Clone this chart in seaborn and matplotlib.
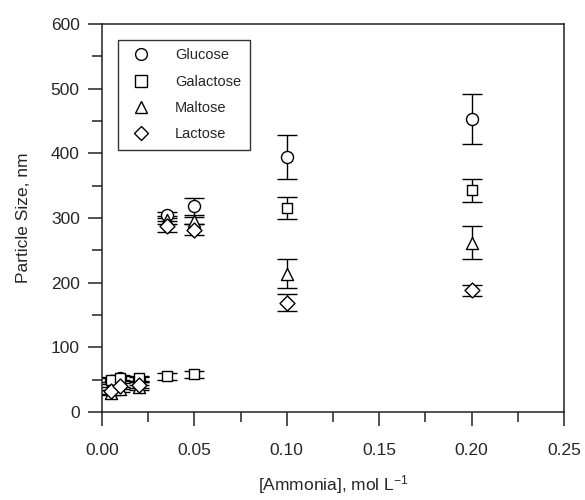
import numpy as np
import pandas as pd
import matplotlib
matplotlib.use("Agg")
import matplotlib.pyplot as plt
import seaborn as sns
from matplotlib.lines import Line2D
from matplotlib.ticker import MultipleLocator

# ---- data ----
sugars = ["Glucose", "Galactose", "Maltose", "Lactose"]
ammonia = [0.005, 0.01, 0.02, 0.035, 0.05, 0.10, 0.20]
glucose_size = [48, 52, 50, 305, 318, 395, 453]
glucose_err = [4, 4, 4, 5, 13, 34, 38]
galactose_size = [50, 53, 52, 55, 58, 315, 343]
galactose_err = [4, 4, 4, 5, 6, 17, 18]
maltose_size = [30, 35, 38, 297, 296, 214, 262]
maltose_err = [4, 4, 4, 6, 6, 22, 26]
lactose_size = [33, 40, 42, 287, 282, 169, 188]
lactose_err = [5, 5, 5, 8, 9, 13, 9]

sizes = [glucose_size, galactose_size, maltose_size, lactose_size]
errs = [glucose_err, galactose_err, maltose_err, lactose_err]
marker_map = {"Glucose": "o", "Galactose": "s", "Maltose": "^", "Lactose": "D"}
marker_size = {"Glucose": 75, "Galactose": 60, "Maltose": 75, "Lactose": 58}

df = pd.DataFrame({
    "Ammonia": np.tile(ammonia, len(sugars)),
    "Size": np.concatenate(sizes),
    "Err": np.concatenate(errs),
    "Sugar": np.repeat(sugars, len(ammonia)),
})

sns.set_theme(style="ticks")
plt.rcParams["font.family"] = ["Liberation Sans", "DejaVu Sans"]
plt.rcParams["mathtext.fontset"] = "custom"
plt.rcParams["mathtext.rm"] = "Liberation Sans"
plt.rcParams["mathtext.it"] = "Liberation Sans"

fig = plt.figure(figsize=(5.85, 5.0), dpi=100)
ax = fig.add_axes([102 / 585, 88 / 500, 462 / 585, 388 / 500])

for s in sugars:
    d = df[df["Sugar"] == s]
    ax.errorbar(d["Ammonia"], d["Size"], yerr=d["Err"], fmt="none",
                ecolor="black", elinewidth=1.0, capsize=7.2, capthick=1.0, zorder=2)

for s in sugars:
    d = df[df["Sugar"] == s]
    sns.scatterplot(data=d, x="Ammonia", y="Size", marker=marker_map[s],
                    s=marker_size[s], facecolor="white", edgecolor="black",
                    linewidth=1.0, ax=ax, zorder=3, legend=False)

ax.set_xlim(0, 0.25)
ax.set_ylim(0, 600)
ax.xaxis.set_major_locator(MultipleLocator(0.05))
ax.xaxis.set_minor_locator(MultipleLocator(0.025))
ax.yaxis.set_major_locator(MultipleLocator(100))
ax.yaxis.set_minor_locator(MultipleLocator(50))
ax.xaxis.set_major_formatter(matplotlib.ticker.FormatStrFormatter("%.2f"))

for sp in ax.spines.values():
    sp.set_visible(True)
    sp.set_linewidth(1.1)
    sp.set_color("#222222")

ax.tick_params(which="major", direction="out", length=10, width=1.1,
               labelsize=12.5, color="#222222", pad=6, top=False, right=False)
ax.tick_params(which="minor", direction="out", length=7, width=1.1,
               color="#222222", top=False, right=False)
ax.tick_params(axis="x", which="major", pad=12)

ax.set_xlabel(r"[Ammonia], mol L$^{-1}$", fontsize=12.5, labelpad=11)
ax.set_ylabel("Particle Size, nm", fontsize=12.5, labelpad=14)

handles = [Line2D([], [], linestyle="none", marker=marker_map[s],
                  markersize=8.5 if s != "Lactose" else 7.5,
                  markerfacecolor="white", markeredgecolor="black",
                  markeredgewidth=1.0) for s in sugars]
leg = ax.legend(handles, sugars, loc="upper left", bbox_to_anchor=(0.035, 0.96),
                borderaxespad=0, frameon=True, fancybox=False, fontsize=10.5,
                handletextpad=1.4, labelspacing=0.85, borderpad=0.6,
                handlelength=1.9)
leg.get_frame().set_edgecolor("black")
leg.get_frame().set_linewidth(1.0)

fig.savefig("out.png", dpi=100)
